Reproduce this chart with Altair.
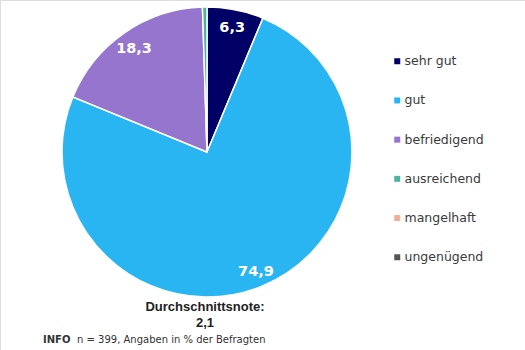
import altair as alt
import pandas as pd

categories = ["sehr gut", "gut", "befriedigend", "ausreichend", "mangelhaft", "ungenügend"]
values = [6.3, 74.9, 18.3, 0.5, 0.0, 0.0]
colors = ["#000066", "#29b5f2", "#9575cd", "#4db6a0", "#f2ae9c", "#555555"]
average_title = "Durchschnittsnote:"
average_value = "2,1"
info_label = "INFO"
info_text = "n = 399, Angaben in % der Befragten"

df = pd.DataFrame({
    "Note": categories,
    "Anteil": values,
    "order": list(range(len(categories))),
    "label": [f"{v:.1f}".replace(".", ",") for v in values],
})

cx, cy, R = 207, 152, 145

color_scale = alt.Scale(domain=categories, range=colors)

pie = alt.Chart(df).transform_filter(alt.datum.Anteil > 0).mark_arc(
    outerRadius=R, stroke="white", strokeWidth=1.5
).encode(
    theta=alt.Theta("Anteil:Q", stack=True),
    order=alt.Order("order:Q"),
    color=alt.Color(
        "Note:N",
        scale=color_scale,
        legend=alt.Legend(
            title=None,
            orient="none",
            legendX=391,
            legendY=55,
            symbolType="square",
            symbolSize=36,
            symbolStrokeWidth=0,
            labelFont="DejaVu Sans",
            labelFontSize=12.5,
            labelColor="#3a3a3a",
            labelOffset=1,
            rowPadding=26.2,
        ),
    ),
    x=alt.value(cx),
    y=alt.value(cy),
)

labels = alt.Chart(df).transform_filter(alt.datum.Anteil > 0).transform_window(
    cum="sum(Anteil)", sort=[alt.SortField("order")]
).transform_calculate(
    mid="datum.cum - datum.Anteil / 2"
).transform_filter(alt.datum.Anteil >= 1).mark_text(
    radius=128,
    font="DejaVu Sans",
    fontWeight="bold",
    fontSize=14.5,
    color="white",
    dy=2,
).encode(
    theta=alt.Theta("mid:Q", scale=alt.Scale(domain=[0, 100], range=[0, 6.283185307179586])),
    text="label:N",
    x=alt.value(cx),
    y=alt.value(cy),
)

note1 = alt.Chart(pd.DataFrame({"t": [average_title]})).mark_text(
    font="Liberation Sans", fontWeight="bold", fontSize=13, color="#222222"
).encode(text="t:N", x=alt.value(205), y=alt.value(307))
note2 = alt.Chart(pd.DataFrame({"t": [average_value]})).mark_text(
    font="Liberation Sans", fontWeight="bold", fontSize=13, color="#222222"
).encode(text="t:N", x=alt.value(205), y=alt.value(323))
info1 = alt.Chart(pd.DataFrame({"t": [info_label]})).mark_text(
    font="DejaVu Sans", fontWeight="bold", fontSize=10, color="#333333", align="left"
).encode(text="t:N", x=alt.value(43), y=alt.value(340))
info2 = alt.Chart(pd.DataFrame({"t": [info_text]})).mark_text(
    font="DejaVu Sans", fontSize=10, color="#333333", align="left"
).encode(text="t:N", x=alt.value(77), y=alt.value(340))

chart = alt.layer(pie, labels, note1, note2, info1, info2).resolve_scale(
    theta="independent"
).properties(
    width=525, height=350, padding=0, autosize=alt.AutoSizeParams(type="none")
).configure_view(stroke=None).configure(background="white")

chart.save("out.html", embed_options={"renderer": "svg", "actions": False})
